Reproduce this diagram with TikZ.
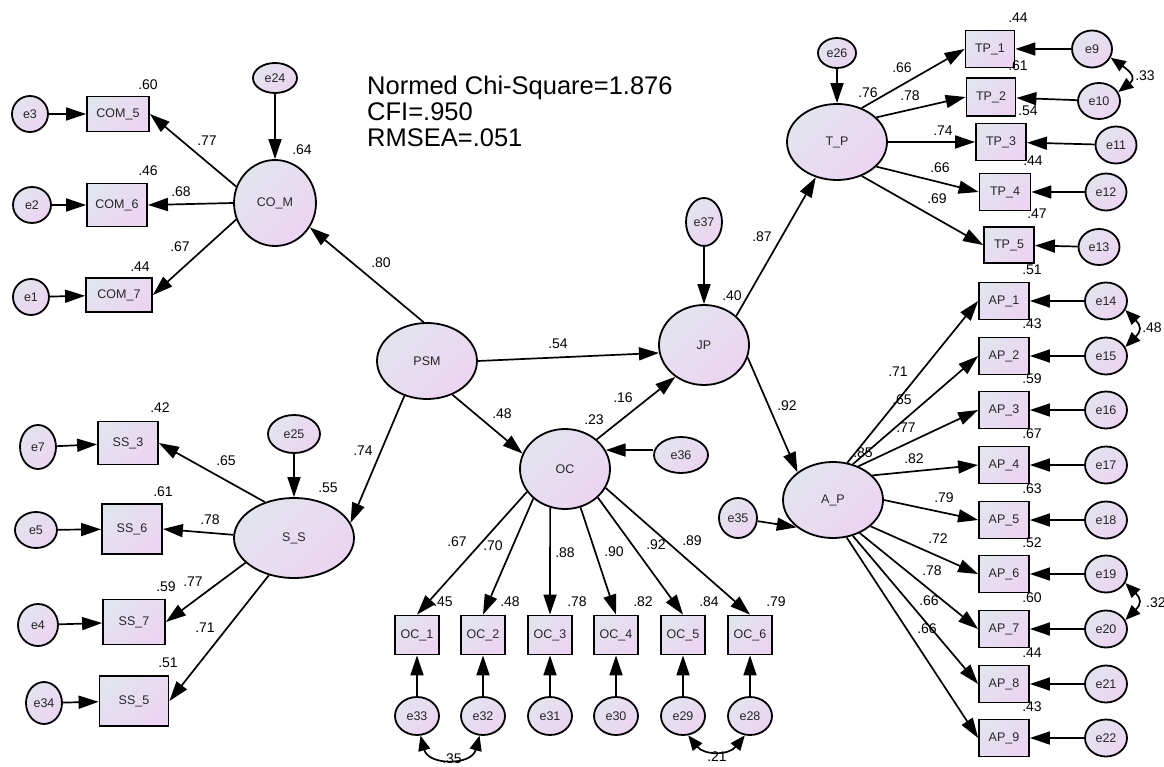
\documentclass[tikz,border=0pt]{standalone}
\usepackage{fontspec}
\setmainfont{Liberation Sans}
\usetikzlibrary{arrows.meta,shapes.geometric}
\definecolor{gTL}{RGB}{226,228,238}
\definecolor{gBR}{RGB}{236,212,242}
\begin{document}
\begin{tikzpicture}[x=1pt,y=-1pt,
  sz/.style 2 args={minimum width=#1pt,minimum height=#2pt},
  grad/.style={top color=gTL,bottom color=gBR,shading angle=45},
  lat/.style={ellipse,draw,line width=1.8pt,grad,inner sep=0pt,text=black!85,font=\fontsize{12.5}{14}\selectfont},
  err/.style={lat},
  obs/.style={rectangle,draw,line width=1.8pt,grad,inner sep=0pt,text=black!85,font=\fontsize{12.5}{14}\selectfont},
  arr/.style={line width=1.7pt,-{Triangle[length=20pt,width=13pt]}},
  cov/.style={line width=1.7pt,{Triangle[length=15pt,width=12pt]}-{Triangle[length=15pt,width=12pt]}},
  lab/.style={inner sep=0pt,font=\fontsize{14}{16}\selectfont},
  ttl/.style={inner sep=0pt,anchor=base west,font=\fontsize{25.5}{26}\selectfont}]
\useasboundingbox (0,0) rectangle (1164,767);

% title
\node[ttl] (t1) at (367,95) {Normed Chi-Square=1.876};
\node[ttl] (t2) at (367,121) {CFI=.950};
\node[ttl] (t3) at (367,147) {RMSEA=.051};

% latent variables
\node[lat,sz={82}{86}] (LCOM) at (275,203) {CO\_M};
\node[lat,sz={100}{76}] (LPSM) at (427,361) {PSM};
\node[lat,sz={90}{80}] (LJP) at (704,345) {JP};
\node[lat,sz={90}{80}] (LOC) at (565,469) {OC};
\node[lat,sz={120}{80}] (LSS) at (294,538) {S\_S};
\node[lat,sz={100}{76}] (LTP) at (837,142) {T\_P};
\node[lat,sz={100}{76}] (LAP) at (833,500) {A\_P};

% structural errors
\node[err,sz={44}{30}] (e24) at (275,78) {e24};
\node[err,sz={52}{38}] (e25) at (294,434) {e25};
\node[err,sz={38}{30}] (e26) at (837,53) {e26};
\node[err,sz={54}{36}] (e36) at (681,455) {e36};
\node[err,sz={36}{48}] (e37) at (704,222) {e37};
\node[err,sz={38}{40}] (e35) at (738,518) {e35};

% COM indicators
\node[obs,sz={62}{35}] (COM5) at (118,114) {COM\_5};
\node[obs,sz={60}{43}] (COM6) at (117,205) {COM\_6};
\node[obs,sz={66}{34}] (COM7) at (119,295) {COM\_7};
\node[err,sz={36}{36}] (e3) at (30,114) {e3};
\node[err,sz={38}{36}] (e2) at (32,205) {e2};
\node[err,sz={36}{36}] (e1) at (31,297) {e1};

% SS indicators
\node[obs,sz={60}{43}] (SS3) at (128,443) {SS\_3};
\node[obs,sz={60}{50}] (SS6) at (132,529) {SS\_6};
\node[obs,sz={62}{45}] (SS7) at (134,622) {SS\_7};
\node[obs,sz={69}{50}] (SS5) at (134,701) {SS\_5};
\node[err,sz={36}{44}] (e7) at (38,447) {e7};
\node[err,sz={42}{36}] (e5) at (36,530) {e5};
\node[err,sz={40}{42}] (e4) at (38,625) {e4};
\node[err,sz={36}{42}] (e34) at (44,703) {e34};

% OC indicators
\foreach \n/\x/\e in {1/417/33,2/483/32,3/550/31,4/616/30,5/683/29,6/750/28}{
  \node[obs,sz={44}{39}] (OC\n) at (\x,635) {OC\_\n};
  \node[err,sz={44}{38}] (e\e) at (\x,716) {e\e};
}

% TP indicators
\node[obs,sz={49}{37}] (TP1) at (990,49) {TP\_1};
\node[obs,sz={49}{38}] (TP2) at (991,97) {TP\_2};
\node[obs,sz={50}{37}] (TP3) at (1001,142) {TP\_3};
\node[obs,sz={51}{37}] (TP4) at (1005,192) {TP\_4};
\node[obs,sz={50}{36}] (TP5) at (1009,245) {TP\_5};
\node[err,sz={40}{37}] (e9) at (1092,49) {e9};
\node[err,sz={42}{36}] (e10) at (1099,101) {e10};
\node[err,sz={41}{37}] (e11) at (1116,145) {e11};
\node[err,sz={41}{37}] (e12) at (1106,192) {e12};
\node[err,sz={41}{36}] (e13) at (1099,247) {e13};

% AP indicators
\foreach \n/\y/\e in {1/301/14,2/356/15,3/410/16,4/465/17,5/520/18,6/574/19,7/629/20,8/684/21,9/738/22}{
  \node[obs,sz={50}{37}] (AP\n) at (1004,\y) {AP\_\n};
  \node[err,sz={42}{37}] (e\e) at (1106,\y) {e\e};
}

% structural paths
\draw[arr] (LPSM.95) -- (LCOM.-35);
\draw[arr] (LPSM.237) -- (LSS.15);
\draw[arr] (LPSM.-53) -- (LOC.160);
\draw[arr] (LPSM.east) -- (LJP.190);
\draw[arr] (LOC.43) -- (LJP.228);
\draw[arr] (LJP.42) -- (LTP.239);
\draw[arr] (LJP.-16) -- (LAP.142);

% disturbances
\draw[arr] (e24) -- (LCOM);
\draw[arr] (e25) -- (LSS);
\draw[arr] (e26) -- (LTP);
\draw[arr] (e37) -- (LJP);
\draw[arr] (e36.west |- LOC.25) -- (LOC.25);
\draw[arr] (e35) -- (LAP.217);

% COM loadings
\draw[arr] (LCOM.157.7) -- (COM5.east);
\draw[arr] (LCOM.west) -- (COM6.east);
\draw[arr] (LCOM.203.5) -- (COM7.east);
\draw[arr] (e3) -- (COM5);
\draw[arr] (e2) -- (COM6);
\draw[arr] (e1) -- (COM7);

% SS loadings
\draw[arr] (LSS.129) -- (SS3.east);
\draw[arr] (LSS.177) -- (SS6.east);
\draw[arr] (LSS.207) -- (SS7.east);
\draw[arr] (LSS.236) -- (SS5.east);
\draw[arr] (e7) -- (SS3);
\draw[arr] (e5) -- (SS6);
\draw[arr] (e4) -- (SS7);
\draw[arr] (e34) -- (SS5);

% OC loadings
\foreach \n/\a/\e in {1/211/33,2/223/32,3/249/31,4/-68/30,5/-41/29,6/-25/28}{
  \draw[arr] (LOC.\a) -- (OC\n.north);
  \draw[arr] (e\e) -- (OC\n);
}

% TP loadings
\foreach \n/\a/\e in {1/54.5/9,2/32/10,3/0/11,4/-32/12,5/-54/13}{
  \draw[arr] (LTP.\a) -- (TP\n.west);
  \draw[arr] (e\e) -- (TP\n);
}

% AP loadings
\foreach \n/\a/\e in {1/69/14,2/61.5/15,3/53/16,4/32/17,5/0/18,6/-35/19,7/-51.5/20,8/-61.6/21,9/-70/22}{
  \draw[arr] (LAP.\a) -- (AP\n.west);
  \draw[arr] (e\e) -- (AP\n);
}

% covariances
\draw[cov] (e9.-25) .. controls +(20,14) and +(18,-14) .. (e10.25);
\draw[cov] (e14.-25) .. controls +(16,16) and +(16,-16) .. (e15.25);
\draw[cov] (e19.-25) .. controls +(16,16) and +(16,-16) .. (e20.25);
\draw[cov] (e33.-80) .. controls +(8,30) and +(-8,30) .. (e32.-100);
\draw[cov] (e29.-75) .. controls +(16,20) and +(-16,20) .. (e28.-105);

% numeric labels
\foreach \t/\x/\y [count=\i] in {
 .60/148/85, .77/207/141, .64/302/150, .46/148/171, .68/181/192, .67/180/247, .44/140/267,
 .42/160/408, .65/226/461, .61/163/492, .78/210/520, .55/328/488, .74/363/451, .59/166/587, .77/193/582, .71/205/628, .51/168/663,
 .80/381/263, .54/558/344, .48/502/414, .16/623/398, .23/594/420, .40/732/296, .87/762/237, .92/787/406,
 .67/457/542, .70/493/546, .88/565/553, .90/614/552, .92/656/545, .89/692/541,
 .45/443/602, .48/510/602, .78/577/602, .82/643/602, .84/709/602, .79/776/602,
 .35/452/759, .21/717/757,
 .44/1018/18, .61/1018/66, .54/1028/111, .44/1033/161, .47/1037/214, .51/1032/270,
 .66/902/68, .76/868/93, .78/910/96, .74/943/131, .66/940/168, .69/937/199, .33/1145/76,
 .43/1032/324, .59/1032/379, .67/1032/434, .63/1032/489, .52/1032/543, .60/1032/598, .44/1032/653, .43/1032/707,
 .71/898/372, .65/902/400, .77/906/428, .85/863/453, .82/914/459, .79/944/498, .72/938/539, .78/932/571, .66/929/601, .66/927/629,
 .48/1152/328}{
  \node[lab] (lab\i) at (\x,\y) {\t};
}
\node[lab,anchor=west] (lab32) at (1146,603) {.32};
\end{tikzpicture}
\end{document}
